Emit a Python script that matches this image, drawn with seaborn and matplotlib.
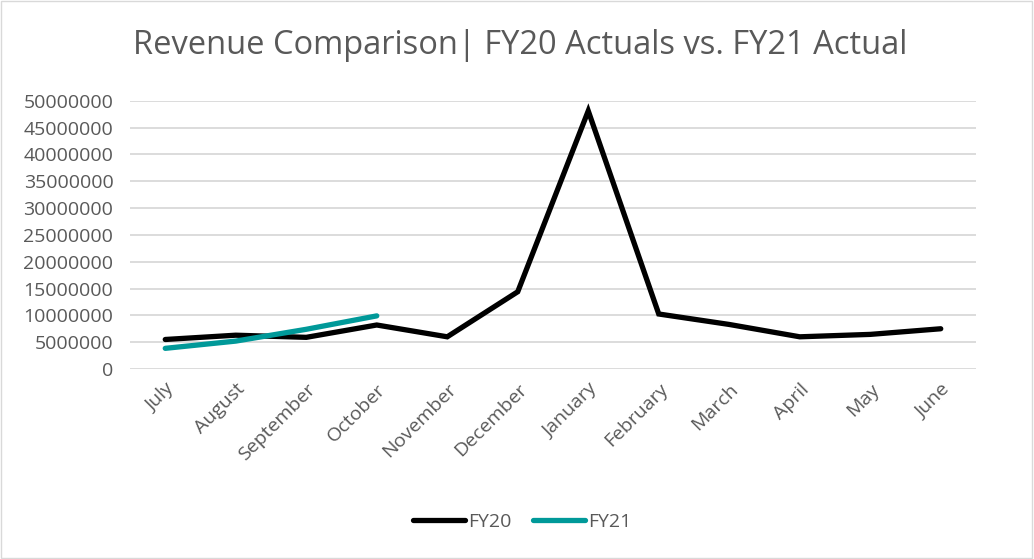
import pandas as pd
import matplotlib
matplotlib.use("Agg")
import matplotlib.pyplot as plt
import seaborn as sns
from matplotlib.patches import Rectangle

months = ["July", "August", "September", "October", "November", "December",
          "January", "February", "March", "April", "May", "June"]
fy20 = [5500000, 6300000, 5900000, 8200000, 6000000, 14400000,
        48100000, 10250000, 8300000, 6000000, 6450000, 7500000]
fy21 = [3850000, 5200000, 7400000, 9900000]

df = pd.concat([
    pd.DataFrame({"Month": months, "Revenue": fy20, "Series": "FY20"}),
    pd.DataFrame({"Month": months[:len(fy21)], "Revenue": fy21, "Series": "FY21"}),
], ignore_index=True)

sns.set_style("white")
plt.rcParams["font.family"] = ["Open Sans", "DejaVu Sans"]
grey = "#595959"

fig = plt.figure(figsize=(10.34, 5.59), dpi=100)
ax = fig.add_axes([130 / 1034, 1 - 369 / 559, 846 / 1034, (369 - 100.7) / 559])

sns.lineplot(data=df, x="Month", y="Revenue", hue="Series",
             palette={"FY20": "#000000", "FY21": "#009999"},
             linewidth=3.8, sort=False, ax=ax, legend=False)
for ln in ax.lines:
    ln.set_solid_capstyle("round")
    ln.set_solid_joinstyle("miter")

ax.set_xlim(-0.5, len(months) - 0.5)
ax.set_ylim(0, 50000000)
ax.set_yticks(range(0, 50000001, 5000000))
ax.set_yticklabels([str(v) for v in range(0, 50000001, 5000000)])
ax.yaxis.grid(True, color="#d9d9d9", linewidth=1.3)
ax.set_axisbelow(True)
for s in ax.spines.values():
    s.set_visible(False)
ax.tick_params(axis="both", length=0, colors=grey, labelsize=14)
ax.tick_params(axis="y", pad=12)
ax.tick_params(axis="x", pad=8)
plt.setp(ax.get_xticklabels(), rotation=45, ha="right", rotation_mode="anchor")
ax.set_xlabel("")
ax.set_ylabel("")

fig.text(0.503, 1 - 45 / 559, "Revenue Comparison| FY20 Actuals vs. FY21 Actual",
         ha="center", va="center", fontsize=23.5, color=grey)

handles = [plt.Line2D([], [], color=c, linewidth=3.8, solid_capstyle="round")
           for c in ["#000000", "#009999"]]
fig.legend(handles, ["FY20", "FY21"], loc="center", ncol=2,
           bbox_to_anchor=(0.505, 1 - 522 / 559), frameon=False,
           fontsize=14, labelcolor=grey, handlelength=2.7, handletextpad=0.15,
           columnspacing=1.1)

fig.add_artist(Rectangle((0.001, 0.001), 0.997, 0.997, transform=fig.transFigure,
                         fill=False, edgecolor="#d9d9d9", linewidth=1))

fig.savefig("out.png", dpi=100)
